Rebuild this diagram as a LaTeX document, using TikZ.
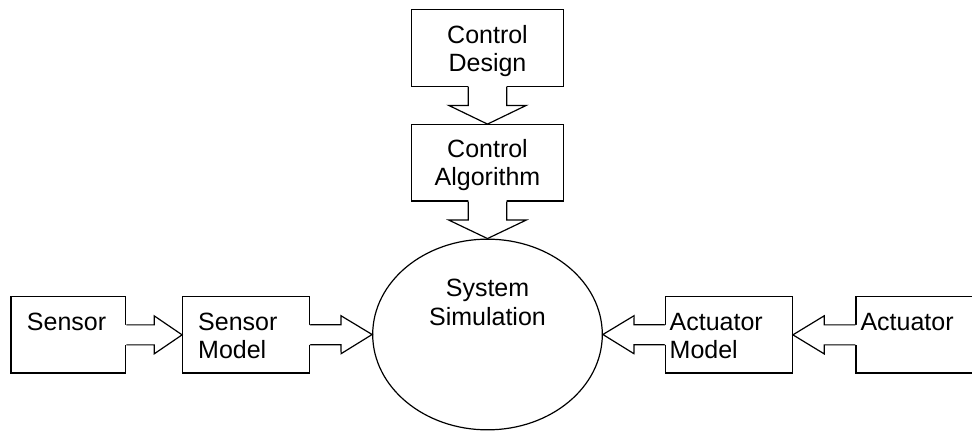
\documentclass[tikz,border=0pt]{standalone}
\usepackage{fontspec}
\setmainfont{Liberation Sans}
\usetikzlibrary{calc,shapes.geometric}
% block arrow: #1 start (on source edge), #2 tip, #3 shaft half-width, #4 head half-width
\newcommand\blockarrow[4]{%
  \coordinate (ba-m) at ($(#1)!0.5!(#2)$);
  \coordinate (ba-s) at ($(#1)!-1.6pt!(#2)$);
  \fill[white] ($(ba-s)!#3!90:(#2)$) -- ($(ba-m)!#3!90:(#2)$) -- ($(ba-m)!#4!90:(#2)$)
     -- (#2) -- ($(ba-m)!#4!-90:(#2)$) -- ($(ba-m)!#3!-90:(#2)$) -- ($(ba-s)!#3!-90:(#2)$) -- cycle;
  \draw[connector] ($(#1)!#3!90:(#2)$) -- ($(ba-m)!#3!90:(#2)$) -- ($(ba-m)!#4!90:(#2)$)
     -- (#2) -- ($(ba-m)!#4!-90:(#2)$) -- ($(ba-m)!#3!-90:(#2)$) -- ($(#1)!#3!-90:(#2)$);
}
\begin{document}
\begin{tikzpicture}[x=1pt,y=-1pt,
  lw/.style={line width=1.2pt},
  box/.style={lw, draw=black, rectangle, inner ysep=0pt, minimum height=76.3pt,
     font=\fontsize{25}{28}\selectfont},
  cbox/.style={box, text depth=0pt, align=center, inner xsep=0pt, minimum width=151.6pt},
  lbox/.style={box, align=left, text height=18.3pt, text depth=28pt},
  connector/.style={lw, line join=miter},
]
\clip (0,0) rectangle (972,431);
\fill[white] (0,0) rectangle (972,431);

% nodes
\node[cbox] (design) at (487.5,48) {Control\\Design};
\node[cbox] (algo) at (487.5,162.85) {Control\\Algorithm};
\node[lw, draw=black, ellipse, inner sep=0pt, minimum width=229.6pt, minimum height=190.7pt]
   (sim) at (487.5,334.5) {};
\node[font=\fontsize{25}{29}\selectfont, align=center, inner sep=0pt, text depth=0pt]
   (simtext) at (487.5,302.6) {System\\Simulation};

\node[lbox, inner xsep=16pt, text width=82.7pt, minimum width=114.7pt]
   (sensor) at (68.35,334.85) {Sensor};
\node[lbox, inner xsep=15.5pt, text width=95.6pt, minimum width=126.6pt]
   (smodel) at (246,334.85) {Sensor\\Model};
\node[lbox, inner xsep=4pt, text width=118.6pt, minimum width=126.6pt]
   (amodel) at (729,334.85) {Actuator\\Model};
\node[lbox, inner xsep=4.5pt, text width=131pt, minimum width=140pt]
   (act) at (926,334.85) {Actuator};

% connectors (block arrows)
\blockarrow{design.south}{algo.north}{19.2pt}{38.7pt}
\blockarrow{algo.south}{sim.north}{19.2pt}{38.7pt}
\blockarrow{sensor.east}{smodel.west}{10pt}{19pt}
\blockarrow{smodel.east}{sim.west}{10pt}{19pt}
\blockarrow{act.west}{amodel.east}{10pt}{19pt}
\blockarrow{amodel.west}{sim.east}{10pt}{19pt}
\end{tikzpicture}
\end{document}
